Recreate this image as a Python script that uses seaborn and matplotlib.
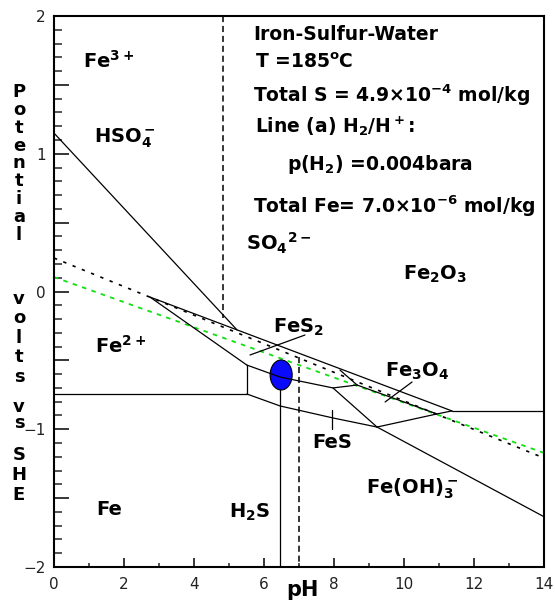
import numpy as np
import pandas as pd
import seaborn as sns
import matplotlib
matplotlib.use("Agg")
import matplotlib.pyplot as plt
from matplotlib.patches import Ellipse

# ---------------- data (pH, E in volts vs SHE) ----------------
ph_line_a_upper = [0.0, 5.23]
e_line_a_upper = [1.15, -0.279]

ph_dotted_black = [0.0, 14.0]
e_dotted_black = [0.243, -1.209]

ph_green_h2 = [0.0, 14.0]
e_green_h2 = [0.105, -1.172]

ph_fe2o3_upper = [2.74, 11.37]
e_fe2o3_upper = [-0.040, -0.867]

ph_fe2_fes2 = [2.74, 5.51]
e_fe2_fes2 = [-0.040, -0.534]

ph_vert_551 = [5.51, 5.51]
e_vert_551 = [-0.534, -0.744]

ph_fe_fe2 = [0.0, 5.51]
e_fe_fe2 = [-0.744, -0.744]

ph_fes2_lower = [5.51, 6.46, 7.97, 8.66]
e_fes2_lower = [-0.534, -0.621, -0.700, -0.679]

ph_fes2_tip = [8.17, 8.66]
e_fes2_tip = [-0.570, -0.679]

ph_fe3o4_lower = [8.66, 10.94, 11.37]
e_fe3o4_lower = [-0.679, -0.889, -0.867]

ph_steep = [7.97, 9.23]
e_steep = [-0.700, -0.984]

ph_fe_feoh3 = [9.23, 14.0]
e_fe_feoh3 = [-0.984, -1.635]

ph_fes_lower = [5.51, 6.46, 7.97, 9.23]
e_fes_lower = [-0.744, -0.831, -0.918, -0.984]

ph_fes_right = [9.23, 10.94]
e_fes_right = [-0.984, -0.889]

ph_right_flat = [11.37, 14.0]
e_right_flat = [-0.867, -0.867]

ph_h2s_vert = [6.46, 6.46]
e_h2s_vert = [-0.62, -2.0]

ph_neutral = [7.0, 7.0]
e_neutral = [-0.475, -2.0]

ph_hso4_vert = [4.83, 4.83]
e_hso4_vert = [2.0, -0.19]

ph_lead_fes2 = [7.17, 5.60]
e_lead_fes2 = [-0.316, -0.461]

ph_lead_fe3o4 = [10.23, 9.46]
e_lead_fe3o4 = [-0.657, -0.802]

ph_fes_tick = [7.94, 7.94]
e_fes_tick = [-0.86, -1.00]

point_ph = 6.49
point_e = -0.606

x_ticks = [0, 2, 4, 6, 8, 10, 12, 14]
y_ticks = [-2, -1.5, -1, -0.5, 0, 0.5, 1, 1.5, 2]
y_tick_labels = ["−2", "", "−1", "", "0", "", "1", "", "2"]

region_labels = [
    (0.83, 1.622, r"Fe$^{3+}$"),
    (1.14, 1.085, r"HSO$_4^-$"),
    (5.50, 0.301, r"SO$_4$$^{2-}$"),
    (9.97, 0.083, r"Fe$_2$O$_3$"),
    (1.17, -0.446, r"Fe$^{2+}$"),
    (6.26, -0.301, r"FeS$_2$"),
    (9.46, -0.621, r"Fe$_3$O$_4$"),
    (7.37, -1.136, r"FeS"),
    (8.91, -1.463, r"Fe(OH)$_3^-$"),
    (1.22, -1.622, r"Fe"),
    (5.00, -1.644, r"H$_2$S"),
]

info_lines = [
    (5.69, 1.826, "Iron-Sulfur-Water"),
    (5.74, 1.622, r"T =185$^{\rm o}$C"),
    (5.69, 1.376, r"Total S = 4.9×10$^{-4}$ mol/kg"),
    (5.74, 1.151, r"Line (a) H$_2$/H$^+$:"),
    (6.66, 0.882, r"p(H$_2$) =0.004bara"),
    (5.69, 0.570, r"Total Fe= 7.0×10$^{-6}$ mol/kg"),
]

# vertical axis title words: (word, top of first letter in px, line spacing factor)
ylabel_words = [("Potential", 83, 0.99), ("volts", 290, 1.1), ("vs", 398, 0.85), ("SHE", 446, 1.13)]

# ---------------- style ----------------
sns.set_theme(style="white")
plt.rcParams["font.family"] = ["DejaVu Sans"]
plt.rcParams["text.color"] = "black"
plt.rcParams["mathtext.fontset"] = "custom"
plt.rcParams["mathtext.rm"] = "DejaVu Sans:bold"
plt.rcParams["mathtext.it"] = "DejaVu Sans:bold"
plt.rcParams["mathtext.bf"] = "DejaVu Sans:bold"

W, H = 555, 601
fig = plt.figure(figsize=(W / 100, H / 100), dpi=100)
fig.patch.set_facecolor("white")
ax = fig.add_axes([54 / W, 34 / H, 490 / W, 551 / H])
ax.set_facecolor("white")

solid = dict(color="black", lw=0.9)

def seg(xs, ys, **kw):
    sns.lineplot(x=xs, y=ys, ax=ax, sort=False, estimator=None, legend=False, **kw)

# dotted reference lines
seg(ph_dotted_black, e_dotted_black, color="black", lw=1.2, linestyle=(0, (2.0, 4.0)), zorder=2)
seg(ph_green_h2, e_green_h2, color="#10e010", lw=1.3, linestyle=(0, (2.5, 3.0)), zorder=2)

# dashed verticals
seg(ph_hso4_vert, e_hso4_vert, color="black", lw=1.1, linestyle=(0, (4, 2.5)), zorder=2)
seg(ph_neutral, e_neutral, color="black", lw=1.1, linestyle=(0, (4, 2.5)), zorder=2)

# vertical H2S line (under ellipse)
seg(ph_h2s_vert, e_h2s_vert, zorder=2, **solid)

ell = Ellipse((point_ph, point_e), 0.63, 0.218, facecolor="#0a0aff",
              edgecolor="black", lw=0.8, zorder=3)
ax.add_patch(ell)

for xs, ys in [
    (ph_line_a_upper, e_line_a_upper),
    (ph_fe2o3_upper, e_fe2o3_upper),
    (ph_fe2_fes2, e_fe2_fes2),
    (ph_vert_551, e_vert_551),
    (ph_fe_fe2, e_fe_fe2),
    (ph_fes2_lower, e_fes2_lower),
    (ph_fes2_tip, e_fes2_tip),
    (ph_fe3o4_lower, e_fe3o4_lower),
    (ph_steep, e_steep),
    (ph_fe_feoh3, e_fe_feoh3),
    (ph_fes_lower, e_fes_lower),
    (ph_fes_right, e_fes_right),
    (ph_right_flat, e_right_flat),
    (ph_lead_fes2, e_lead_fes2),
    (ph_lead_fe3o4, e_lead_fe3o4),
    (ph_fes_tick, e_fes_tick),
]:
    seg(xs, ys, zorder=4, **solid)

ax.set_xlim(0, 14)
ax.set_ylim(-2, 2)
ax.set_xlabel("")
ax.set_ylabel("")

ax.set_xticks(x_ticks)
ax.set_xticks(range(1, 14, 2), minor=True)
ax.set_xticklabels([str(t) for t in x_ticks])
ax.set_yticks(y_ticks)
ax.set_yticklabels(y_tick_labels)
ax.set_yticks(np.round(np.arange(-2, 2.01, 0.1), 2), minor=True)

ax.tick_params(axis="x", which="major", direction="in", length=6.5, width=1.1,
               pad=7, labelsize=11, colors="black", top=False, bottom=True)
ax.tick_params(axis="x", which="minor", direction="in", length=3, width=1.1,
               top=False, bottom=True)
ax.tick_params(axis="y", which="major", direction="in", length=10.8, width=1.1,
               pad=6, labelsize=11, colors="black", left=True, right=False)
ax.tick_params(axis="y", which="minor", direction="in", length=5.8, width=1.1,
               left=True, right=False)
for lab in ax.get_xticklabels() + ax.get_yticklabels():
    lab.set_color("#222222")

for sp in ax.spines.values():
    sp.set_visible(True)
    sp.set_color("black")
    sp.set_linewidth(1.5)

for x, y, t in region_labels:
    ax.text(x, y, t, fontsize=14, fontweight="bold", ha="left", va="baseline",
            color="black", zorder=5)

for x, y, t in info_lines:
    ax.text(x, y, t, fontsize=13.5, fontweight="bold", ha="left", va="baseline",
            color="black", zorder=5)

for word, top_px, ls in ylabel_words:
    fig.text(19 / W, 1 - top_px / H, "\n".join(word), fontsize=13, fontweight="bold",
             ha="center", va="top", multialignment="center", linespacing=ls,
             color="black")

fig.text(302 / W, 1 - 590 / H, "pH", fontsize=15, fontweight="bold",
         ha="center", va="center", color="black")

fig.savefig("out.png", dpi=100, facecolor="white")
